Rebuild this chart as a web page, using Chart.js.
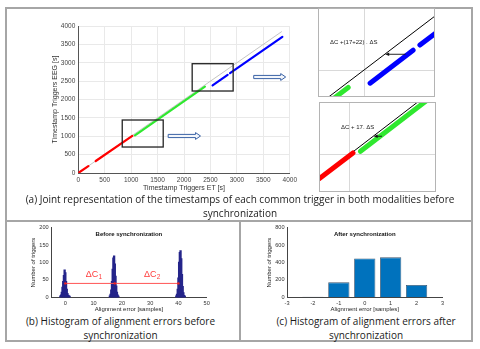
<!DOCTYPE html>
<html>
<head>
<meta charset="utf-8">
<script src="https://cdn.jsdelivr.net/npm/chart.js@4.4.1/dist/chart.umd.min.js"></script>
<style>
    html, body { margin: 0; padding: 0; background: #fff; }
    body { width: 480px; height: 349px; position: relative; overflow: hidden; }
    canvas { position: absolute; }
    .line { position: absolute; background: #a6a6a6; }
    .inset { position: absolute; border: 1px solid #b4b4b4; box-sizing: border-box; pointer-events: none; }
    .cap { position: absolute; font-family: "Open Sans", sans-serif; font-size: 10px; color: #1b1b1b;
           text-align: center; line-height: 13.5px; white-space: nowrap; }
</style>
</head>
<body>
<div class="line" style="left:5px;top:7px;width:468px;height:2px"></div>
<div class="line" style="left:5px;top:340px;width:468px;height:2px"></div>
<div class="line" style="left:5px;top:7px;width:2px;height:335px"></div>
<div class="line" style="left:471px;top:7px;width:2px;height:335px"></div>
<div class="line" style="left:5px;top:220px;width:468px;height:2px"></div>
<div class="line" style="left:239px;top:220px;width:2px;height:122px"></div>

<canvas id="chartA" width="280" height="183" style="left:20px;top:12px"></canvas>
<canvas id="zoomTop" width="117" height="89" style="left:318px;top:8px"></canvas>
<canvas id="zoomBottom" width="117" height="90" style="left:319px;top:102px"></canvas>
<div class="inset" style="left:318px;top:8px;width:117px;height:89px"></div>
<div class="inset" style="left:319px;top:102px;width:117px;height:90px"></div>
<canvas id="chartB" width="190" height="92" style="left:25px;top:222px"></canvas>
<canvas id="chartC" width="198" height="92" style="left:255px;top:222px"></canvas>

<div class="cap" style="left:0;top:193px;width:480px">(a) Joint representation of the timestamps of each common trigger in both modalities before<br>synchronization</div>
<div class="cap" style="left:5px;top:315px;width:231px">(b) Histogram of alignment errors before<br>synchronization</div>
<div class="cap" style="left:250px;top:315px;width:232px">(c) Histogram of alignment errors after<br>synchronization</div>

<script>
// (a) timestamps of common triggers, ET vs EEG
const diagET = [0, 3850];
const diagEEG = [0, 3850];
const redET = [0, 190, 260, 330, 1022];
const redEEG = [0, 188, null, 326, 1012];
const greenET = [1072, 2395];
const greenEEG = [1026, 2348];
const blueET = [2540, 2825, 2850, 2870, 3860];
const blueEEG = [2385, 2672, null, 2717, 3705];
const ticksA = [0, 500, 1000, 1500, 2000, 2500, 3000, 3500, 4000];

// (b) alignment errors before synchronization
const beforeBins = [-1.75, -1.5, -1.25, -1, -0.75, -0.5, -0.25, 0, 0.25, 0.5, 0.75, 1, 1.25, 1.5,
    15.75, 16, 16.25, 16.5, 16.75, 17, 17.25, 17.5, 17.75, 18, 18.25, 18.5, 18.75,
    39.25, 39.5, 39.75, 40, 40.25, 40.5, 40.75, 41, 41.25, 41.5, 41.75, 42, 42.25];
const beforeCounts = [3, 6, 14, 28, 45, 62, 78, 70, 45, 22, 10, 5, 3, 2,
    3, 8, 20, 45, 80, 112, 118, 95, 60, 32, 14, 6, 2,
    3, 8, 22, 55, 100, 128, 133, 110, 65, 30, 12, 4, 2];
const offsetX = [0, 17.5, 40];
const offsetY = [40, 40, 40];
const ticksBx = [0, 10, 20, 30, 40, 50];
const ticksBy = [0, 50, 100, 150, 200];

// (c) alignment errors after synchronization
const afterBins = [-2, -1, 0, 1, 2];
const afterCounts = [7, 172, 448, 460, 141];
const ticksCx = [-3, -2, -1, 0, 1, 2, 3];
const ticksCy = [0, 200, 400, 600, 800];

const FONT = '"Liberation Sans", Arial, sans-serif';
const pts = (xs, ys) => xs.map((x, i) => ({ x: x, y: ys[i] }));
const useTicks = vals => s => { s.ticks = vals.map(v => ({ value: v })); };

// rectangles, arrows and free text drawn in data coordinates
function notesPlugin(spec) {
    return {
        id: 'notes',
        afterDatasetsDraw(chart) {
            const ctx = chart.ctx;
            const px = v => chart.scales.x.getPixelForValue(v);
            const py = v => chart.scales.y.getPixelForValue(v);
            ctx.save();
            (spec.rects || []).forEach(r => {
                ctx.strokeStyle = '#222';
                ctx.lineWidth = 1.3;
                ctx.strokeRect(px(r.x0), py(r.y1), px(r.x1) - px(r.x0), py(r.y0) - py(r.y1));
            });
            (spec.hollow || []).forEach(h => {
                const a = px(h.x0), b = px(h.x1), c = py(h.y);
                const head = 5, sh = 1.6, hh = 3.4;
                ctx.beginPath();
                ctx.moveTo(a, c - sh); ctx.lineTo(b - head, c - sh); ctx.lineTo(b - head, c - hh);
                ctx.lineTo(b, c); ctx.lineTo(b - head, c + hh); ctx.lineTo(b - head, c + sh);
                ctx.lineTo(a, c + sh); ctx.closePath();
                ctx.fillStyle = '#f3f6fb'; ctx.fill();
                ctx.strokeStyle = '#3b63a6'; ctx.lineWidth = 1; ctx.stroke();
            });
            (spec.arrows || []).forEach(h => {
                const a = px(h.x0), b = px(h.x1), c = py(h.y);
                ctx.strokeStyle = '#111'; ctx.fillStyle = '#111'; ctx.lineWidth = 0.9;
                ctx.beginPath(); ctx.moveTo(a, c); ctx.lineTo(b + 3, c); ctx.stroke();
                ctx.beginPath(); ctx.moveTo(b, c); ctx.lineTo(b + 4, c - 1.8); ctx.lineTo(b + 4, c + 1.8);
                ctx.closePath(); ctx.fill();
            });
            (spec.texts || []).forEach(t => {
                ctx.font = (t.bold ? 'bold ' : '') + t.size + 'px ' + FONT;
                ctx.fillStyle = t.color || '#111';
                ctx.textBaseline = 'middle';
                ctx.textAlign = t.align || 'left';
                const x = px(t.x), y = py(t.y);
                ctx.fillText(t.text, x, y);
                if (t.sub) {
                    const w = ctx.measureText(t.text).width;
                    const start = t.align === 'center' ? x + w / 2 : x + w;
                    ctx.font = (t.size * 0.72) + 'px ' + FONT;
                    ctx.textAlign = 'left';
                    ctx.fillText(t.sub, start + 0.3, y + t.size * 0.32);
                }
            });
            ctx.restore();
        }
    };
}

const common = {
    responsive: false,
    animation: false,
    events: [],
    plugins: { legend: { display: false }, tooltip: { enabled: false } }
};

function lineSets(width) {
    const thick = {
        showLine: true, pointRadius: 0, borderWidth: width,
        borderCapStyle: 'round', spanGaps: false, order: 1
    };
    return [
        Object.assign({ data: pts(redET, redEEG), borderColor: '#ff0000' }, thick),
        Object.assign({ data: pts(greenET, greenEEG), borderColor: '#2fe82f' }, thick),
        Object.assign({ data: pts(blueET, blueEEG), borderColor: '#0000ff' }, thick),
        {
            data: pts(diagET, diagEEG), showLine: true, pointRadius: 0, order: 5,
            borderColor: width > 3 ? '#000' : '#b5b5b5', borderWidth: width > 3 ? 1 : 0.8
        }
    ];
}

// main chart (a)
new Chart(document.getElementById('chartA'), {
    type: 'scatter',
    data: { datasets: lineSets(2.2) },
    options: Object.assign({}, common, {
        layout: { padding: { top: 14, right: 10, left: 0, bottom: 0 } },
        scales: {
            x: {
                type: 'linear', min: 0, max: 4000,
                afterBuildTicks: useTicks(ticksA),
                afterFit: s => { s.height = 22; },
                grid: { color: '#e9e9e9', drawTicks: false },
                border: { color: '#555' },
                ticks: { font: { size: 6.5, family: FONT }, color: '#444', padding: 3, maxRotation: 0, callback: v => String(v) },
                title: { display: true, text: 'Timestamp Triggers ET [s]', color: '#333', font: { size: 7, family: FONT }, padding: { top: 0, bottom: 3.1 } }
            },
            y: {
                type: 'linear', min: 0, max: 4000,
                afterBuildTicks: useTicks(ticksA),
                afterFit: s => { s.width = 58.3; },
                grid: { color: '#e9e9e9', drawTicks: false },
                border: { color: '#555' },
                ticks: { font: { size: 6.5, family: FONT }, color: '#444', padding: 3, callback: v => String(v) },
                title: { display: true, text: 'Timestamp Triggers EEG [s]', color: '#333', font: { size: 7, family: FONT }, padding: { top: 30.8, bottom: 0 } }
            }
        }
    }),
    plugins: [notesPlugin({
        rects: [{ x0: 831, x1: 1606, y0: 707, y1: 1442 }, { x0: 2154, x1: 2929, y0: 2231, y1: 2974 }],
        hollow: [{ x0: 1700, x1: 2312, y: 1007 }, { x0: 3318, x1: 3923, y: 2612 }]
    })]
});

// zoomed views of the two boxes
function insetChart(id, xr, yr, gx, gy, notes) {
    new Chart(document.getElementById(id), {
        type: 'scatter',
        data: { datasets: lineSets(5) },
        options: Object.assign({}, common, {
            layout: { padding: 0 },
            scales: {
                x: {
                    type: 'linear', min: xr[0], max: xr[1], afterBuildTicks: useTicks(gx),
                    afterFit: s => { s.height = 0; },
                    grid: { color: '#d9d9d9', drawTicks: false }, border: { display: false }, ticks: { display: false }
                },
                y: {
                    type: 'linear', min: yr[0], max: yr[1], afterBuildTicks: useTicks(gy),
                    afterFit: s => { s.width = 0; },
                    grid: { color: '#d9d9d9', drawTicks: false }, border: { display: false }, ticks: { display: false }
                }
            }
        }),
        plugins: [notesPlugin(notes)]
    });
}

insetChart('zoomTop', [2195, 2970], [2265, 3040], [2500], [2500], {
    arrows: [{ x0: 2775, x1: 2640, y: 2637 }],
    texts: [{ x: 2275, y: 2739, text: 'ΔC +(17+22) . ΔS', size: 6, color: '#222' }]
});
insetChart('zoomBottom', [797, 1572], [676, 1451], [1000], [1000], {
    arrows: [{ x0: 1214, x1: 1159, y: 1156 }],
    texts: [{ x: 943, y: 1234, text: 'ΔC + 17. ΔS', size: 6, color: '#222' }]
});

function histScales(xr, yr, tx, ty, yWidth, yTitlePad) {
    const tickFont = { size: 5.6, family: FONT };
    return {
        x: {
            type: 'linear', min: xr[0], max: xr[1], offset: false,
            afterBuildTicks: useTicks(tx),
            afterFit: s => { s.height = 16.7; },
            grid: { display: false, drawTicks: false }, border: { color: '#444' },
            ticks: { font: tickFont, color: '#333', padding: 3, maxRotation: 0, autoSkip: false, callback: v => String(v) },
            title: { display: true, text: 'Alignment error [samples]', color: '#222', font: { size: 6, family: FONT }, padding: { top: 0, bottom: 1.2 } }
        },
        y: {
            type: 'linear', min: yr[0], max: yr[1],
            afterBuildTicks: useTicks(ty),
            afterFit: s => { s.width = yWidth; },
            grid: { display: false, drawTicks: false }, border: { color: '#444' },
            ticks: { font: tickFont, color: '#333', padding: 2.5, callback: v => String(v) },
            title: { display: true, text: 'Number of triggers', color: '#222', font: { size: 6, family: FONT }, padding: { top: yTitlePad, bottom: 0 } }
        }
    };
}

// histogram before synchronization (b)
new Chart(document.getElementById('chartB'), {
    type: 'bar',
    data: {
        datasets: [
            {
                type: 'line', data: pts(offsetX, offsetY), borderColor: '#ff5555', borderWidth: 1,
                pointRadius: 1.2, pointBackgroundColor: '#ee2222', pointBorderWidth: 0
            },
            {
                type: 'bar', data: pts(beforeBins, beforeCounts), backgroundColor: '#25258a',
                borderWidth: 0, barPercentage: 1, categoryPercentage: 1, inflateAmount: 0.8
            }
        ]
    },
    options: Object.assign({}, common, {
        layout: { padding: { top: 5.7, right: 8.3, left: 0, bottom: 0 } },
        scales: histScales([-5, 50], [0, 200], ticksBx, ticksBy, 26.2, 4.4)
    }),
    plugins: [notesPlugin({
        texts: [
            { x: 22.5, y: 182, text: 'Before synchronization', size: 6, bold: true, align: 'center' },
            { x: 7.2, y: 66, text: 'ΔC', sub: '1', size: 9, color: '#ff3b3b' },
            { x: 27.8, y: 66, text: 'ΔC', sub: '2', size: 9, color: '#ff3b3b' }
        ]
    })]
});

// histogram after synchronization (c)
new Chart(document.getElementById('chartC'), {
    type: 'bar',
    data: {
        datasets: [{
            data: pts(afterBins, afterCounts), backgroundColor: '#0072bd',
            borderColor: '#3e556e', borderWidth: 0.8, barPercentage: 0.82, categoryPercentage: 1
        }]
    },
    options: Object.assign({}, common, {
        layout: { padding: { top: 5.7, right: 10.5, left: 0, bottom: 0 } },
        scales: histScales([-3, 3], [0, 800], ticksCx, ticksCy, 32, 10.4)
    }),
    plugins: [notesPlugin({
        texts: [{ x: 0, y: 728, text: 'After synchronization', size: 6, bold: true, align: 'center' }]
    })]
});
</script>
</body>
</html>
